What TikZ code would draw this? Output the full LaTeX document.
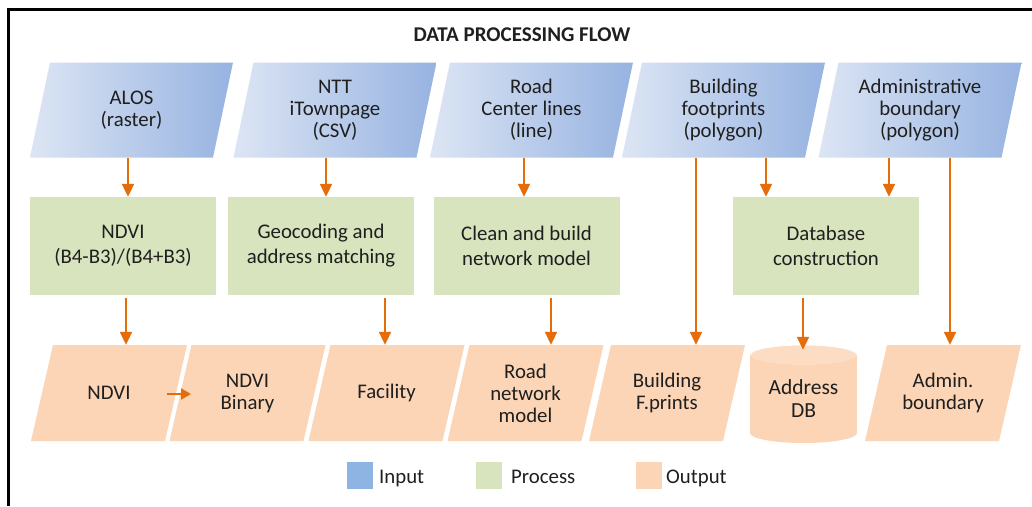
\documentclass[tikz,border=0pt]{standalone}
\usepackage{fontspec}
\setmainfont{Carlito}
\usetikzlibrary{arrows.meta,calc}
\definecolor{inL}{HTML}{DCE5F4}
\definecolor{inR}{HTML}{97B3E1}
\definecolor{inleg}{HTML}{8DB4E2}
\definecolor{proc}{HTML}{D7E4BD}
\definecolor{outc}{HTML}{FBD5B5}
\definecolor{outtop}{HTML}{FCDCC2}
\definecolor{arrc}{HTML}{E46C0A}
\definecolor{txt}{HTML}{1F1F1F}
\begin{document}
\begin{tikzpicture}[x=1pt,y=-1pt,
 lbl/.style={font=\fontsize{20.8}{22}\selectfont, text=txt, align=center, inner sep=0pt},
 inpbox/.style={lbl, minimum width=203pt, minimum height=95pt,
   path picture={\shade[left color=inL,right color=inR]
     (path picture bounding box.south west) -- ([xshift=20pt]path picture bounding box.north west)
     -- (path picture bounding box.north east) -- ([xshift=-20pt]path picture bounding box.south east) -- cycle;}},
 procbox/.style={lbl, font=\fontsize{20.8}{25}\selectfont, minimum width=186pt, minimum height=98pt, fill=proc},
 outbox/.style={lbl, minimum width=156pt, minimum height=96pt,
   path picture={\fill[outc]
     (path picture bounding box.south west) -- ([xshift=22pt]path picture bounding box.north west)
     -- (path picture bounding box.north east) -- ([xshift=-22pt]path picture bounding box.south east) -- cycle;}},
 arr/.style={draw=arrc, line width=2pt, -{Triangle[length=13pt,width=12pt]}},
 legsq/.style={minimum width=26pt, minimum height=27pt, inner sep=0pt},
 legtxt/.style={lbl, anchor=base west},
]
\useasboundingbox (0,0) rectangle (1032,506);
\fill[white] (0,0) rectangle (1032,506);
% frame
\draw[line width=3pt] (8,9.5) -- (1032,9.5);
\draw[line width=3pt] (8.5,8) -- (8.5,506);

% title
\node[lbl, font=\bfseries\fontsize{21}{22}\selectfont] (title) at (522,35) {DATA PROCESSING FLOW};

% inputs
\node[inpbox] (alos) at (131.5,110) {ALOS\\(raster)};
\node[inpbox] (ntt)  at (335,110) {NTT\\iTownpage\\(CSV)};
\node[inpbox] (road) at (531.5,110) {Road\\Center lines\\(line)};
\node[inpbox] (bld)  at (723.5,110) {Building\\footprints\\(polygon)};
\node[inpbox] (adm)  at (920,110) {Administrative\\boundary\\(polygon)};

% processes
\node[procbox] (p1) at (123,246) {NDVI\\(B4-B3)/(B4+B3)};
\node[procbox] (p2) at (321,246) {Geocoding and\\address matching};
\node[procbox] (p3) at (526.5,246) {Clean and build\\network model};
\node[procbox] (p4) at (826,246) {Database\\construction};

% outputs
\node[outbox] (o1) at (109,393) {NDVI};
\node[outbox] (o2) at (247.5,393) {NDVI\\Binary};
\node[outbox] (o3) at (386.5,393) {Facility};
\node[outbox] (o4) at (525.5,393) {Road\\network\\model};
\node[outbox] (o5) at (667,393) {Building\\F.prints};
\node[outbox] (o7) at (943,393) {Admin.\\boundary};
% cylinder
\fill[outc] (750,355) rectangle (857,433);
\fill[outc] (803.5,433) ellipse [x radius=53.5, y radius=10];
\fill[outtop] (803.5,355) ellipse [x radius=53.5, y radius=10];
\draw[white, line width=1pt, opacity=0.8] (750,355) arc [start angle=180, end angle=360, x radius=53.5, y radius=10];
\node[lbl, font=\fontsize{21.5}{23}\selectfont, minimum width=107pt, minimum height=98pt] (o6) at (803.5,399) {Address\\DB};

% arrow columns
\coordinate (a1) at (128,0);
\coordinate (a2) at (326,0);
\coordinate (a3) at (524,0);
\coordinate (a4) at (766,0);
\coordinate (a5) at (889,0);
\coordinate (b1) at (126,0);
\coordinate (b2) at (385,0);
\coordinate (b3) at (551,0);
\coordinate (b4) at (803,0);
\coordinate (c1) at (696,0);
\coordinate (c2) at (950,0);
\coordinate (h1) at (167,394);
\coordinate (h2) at (191,394);

\draw[arr] (alos.south -| a1) -- (p1.north -| a1);
\draw[arr] (ntt.south -| a2) -- (p2.north -| a2);
\draw[arr] (road.south -| a3) -- (p3.north -| a3);
\draw[arr] (bld.south -| a4) -- (p4.north -| a4);
\draw[arr] (adm.south -| a5) -- (p4.north -| a5);
\draw[arr, shorten <=3pt] (p1.south -| b1) -- (o1.north -| b1);
\draw[arr, shorten <=3pt] (p2.south -| b2) -- (o3.north -| b2);
\draw[arr, shorten <=3pt] (p3.south -| b3) -- (o4.north -| b3);
\draw[arr, shorten <=3pt] (p4.south -| b4) -- (o6.north -| b4);
\draw[arr] (bld.south -| c1) -- (o5.north -| c1);
\draw[arr] (adm.south -| c2) -- (o7.north -| c2);
\draw[draw=arrc, line width=2pt, -{Triangle[length=10pt,width=11pt]}] (h1) -- (h2);

% legend
\node[legsq, fill=inleg] (lin) at (360,475.5) {};
\node[legtxt] (lint) at (379,483) {Input};
\node[legsq, fill=proc] (lpr) at (488.5,475.5) {};
\node[legtxt] (lprt) at (511,483) {Process};
\node[legsq, fill=outc] (lou) at (648.5,475.5) {};
\node[legtxt] (lout) at (666,483) {Output};
\end{tikzpicture}
\end{document}
